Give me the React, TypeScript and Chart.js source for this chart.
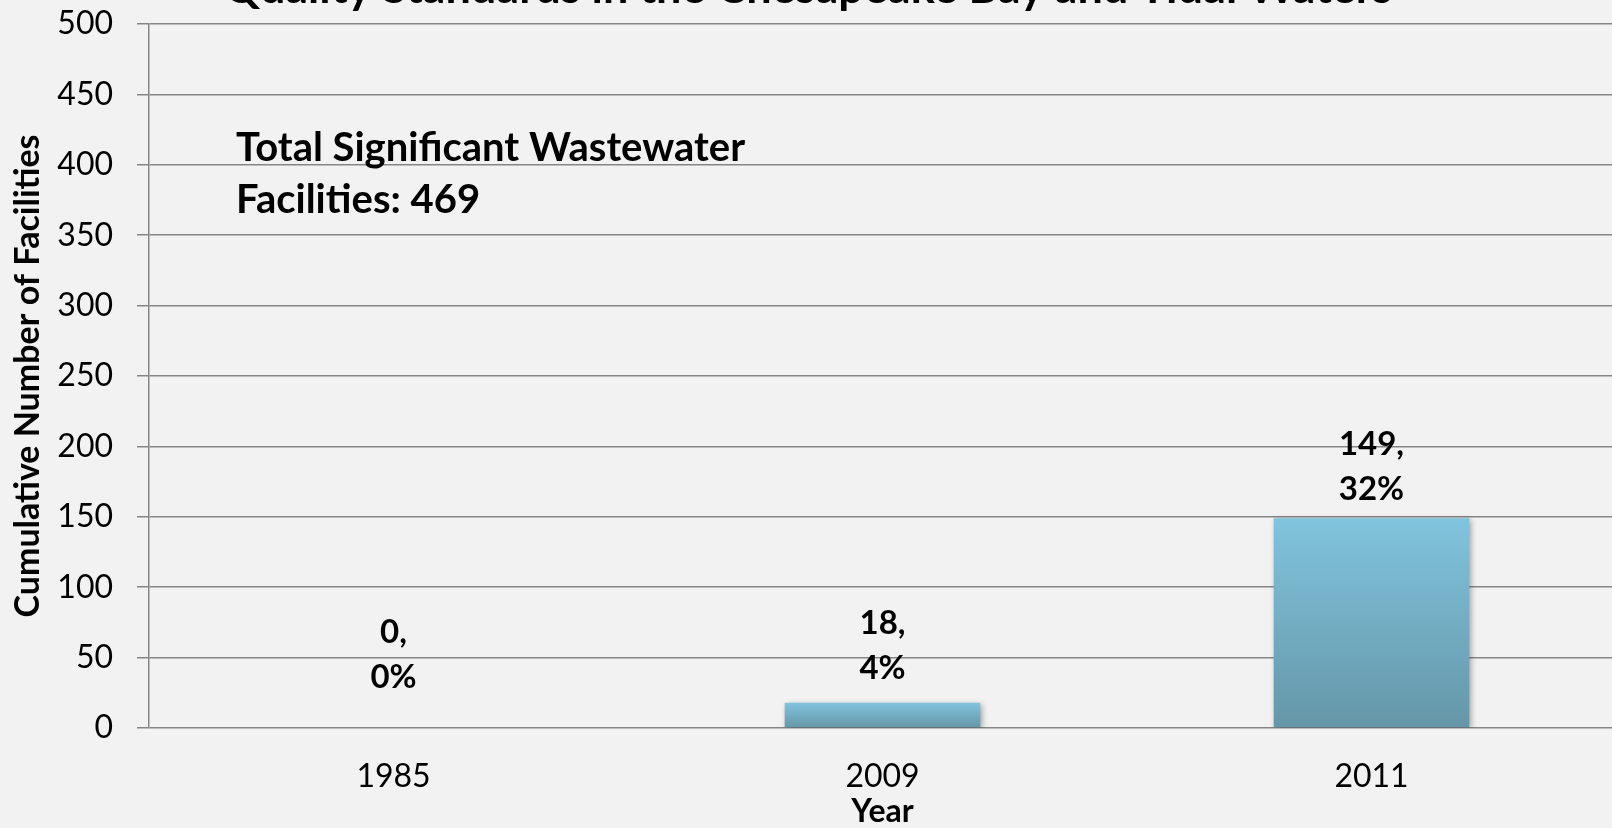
import React, { useEffect, useRef } from "react";
import { Chart, registerables } from "chart.js";

Chart.register(...registerables);

const chartTitle = "Quality Standards in the Chesapeake Bay and Tidal Waters";
const years = ["1985", "2009", "2011"];
const facilities = [0, 18, 149];
const percentLabels = ["0%", "4%", "32%"];
const yMin = 0;
const yMax = 500;
const yStep = 50;
const yAxisTitle = "Cumulative Number of Facilities";
const xAxisTitle = "Year";
const noteLines = ["Total Significant Wastewater", "Facilities: 469"];

const FONT = "Lato";

const shadowPlugin = {
  id: "barShadow",
  beforeDatasetDraw(chart: any) {
    const c = chart.ctx;
    c.save();
    c.shadowColor = "rgba(0,0,0,0.35)";
    c.shadowBlur = 6;
    c.shadowOffsetX = 2;
    c.shadowOffsetY = 2;
  },
  afterDatasetDraw(chart: any) {
    chart.ctx.restore();
  },
};

const labelPlugin = {
  id: "barLabels",
  afterDatasetsDraw(chart: any, _args: any, opts: any) {
    const c = chart.ctx;
    const meta = chart.getDatasetMeta(0);
    const lifts: number[] = opts.lift || [];
    c.save();
    c.fillStyle = "#000";
    c.font = `bold 33px ${FONT}`;
    c.textAlign = "center";
    c.textBaseline = "middle";
    meta.data.forEach((bar: any, i: number) => {
      const x = bar.x;
      const top = bar.y;
      const lift = lifts[i] ?? 36;
      c.fillText(`${facilities[i]},`, x, top - lift - 45);
      c.fillText(percentLabels[i], x, top - lift);
    });
    c.restore();
  },
};

const notePlugin = {
  id: "note",
  afterDraw(chart: any) {
    const c = chart.ctx;
    const area = chart.chartArea;
    c.save();
    c.fillStyle = "#000";
    c.font = `bold 40px ${FONT}`;
    c.textAlign = "left";
    c.textBaseline = "middle";
    c.fillText(noteLines[0], area.left + 87, area.top + 124);
    c.fillText(noteLines[1], area.left + 87, area.top + 176);
    c.restore();
  },
};

export default function App() {
  const ref = useRef<HTMLCanvasElement | null>(null);

  useEffect(() => {
    if (!ref.current) return;
    const chart = new Chart(ref.current, {
      type: "bar",
      data: {
        labels: years,
        datasets: [
          {
            data: facilities,
            backgroundColor: (ctx: any) => {
              const ch = ctx.chart;
              const area = ch.chartArea;
              if (!area || ctx.type !== "data") return "#7fc3dc";
              const v = ctx.parsed ? ctx.parsed.y : ctx.raw;
              const top = ch.scales.y.getPixelForValue(v);
              const bottom = ch.scales.y.getPixelForValue(0);
              if (!(bottom - top > 1)) return "#7fc3dc";
              const g = ch.ctx.createLinearGradient(0, top, 0, bottom);
              g.addColorStop(0, "#80c4dd");
              g.addColorStop(1, "#6596a8");
              return g;
            },
            borderWidth: 0,
            barPercentage: 0.4,
            categoryPercentage: 1,
          },
        ],
      },
      options: {
        responsive: false,
        animation: false,
        devicePixelRatio: 1,
        layout: { padding: { left: 0, right: 24, top: 0, bottom: 0 } },
        plugins: {
          legend: { display: false },
          tooltip: { enabled: false },
          barLabels: { lift: [51, 34, 29] },
          title: {
            display: true,
            text: chartTitle,
            color: "#000",
            font: { family: FONT, size: 45, weight: "bold", lineHeight: 1.2 },
            padding: { top: 21, bottom: 9 },
          },
        },
        scales: {
          x: {
            grid: { display: false, drawTicks: false, tickLength: 0 },
            border: { display: false },
            ticks: {
              color: "#000",
              font: { family: FONT, size: 32 },
              padding: 29,
            },
            title: {
              display: true,
              text: xAxisTitle,
              color: "#000",
              font: { family: FONT, size: 32, weight: "bold", lineHeight: 1 },
              padding: { top: 0, bottom: 0 },
            },
            afterFit(scale: any) {
              scale.height = 100;
            },
          },
          y: {
            min: yMin,
            max: yMax,
            ticks: {
              stepSize: yStep,
              color: "#000",
              font: { family: FONT, size: 32 },
              padding: 24,
            },
            grid: {
              color: "#868686",
              lineWidth: 1.5,
              tickLength: 12,
              drawTicks: true,
            },
            border: { display: true, color: "#868686", width: 1.5 },
            title: {
              display: true,
              text: yAxisTitle,
              color: "#000",
              font: { family: FONT, size: 34, weight: "bold", lineHeight: 1 },
              padding: { top: 11, bottom: 0 },
            },
            afterFit(scale: any) {
              scale.width = 149;
            },
          },
        },
      },
      plugins: [shadowPlugin, labelPlugin, notePlugin],
    } as any);
    return () => chart.destroy();
  }, []);

  return (
    <div
      style={{
        position: "fixed",
        left: 0,
        top: 0,
        width: 1612,
        height: 828,
        overflow: "hidden",
        background: "#f2f2f2",
      }}
    >
      <canvas
        ref={ref}
        width={1640}
        height={888}
        style={{ position: "absolute", left: 0, top: -60, width: 1640, height: 888 }}
      />
    </div>
  );
}
